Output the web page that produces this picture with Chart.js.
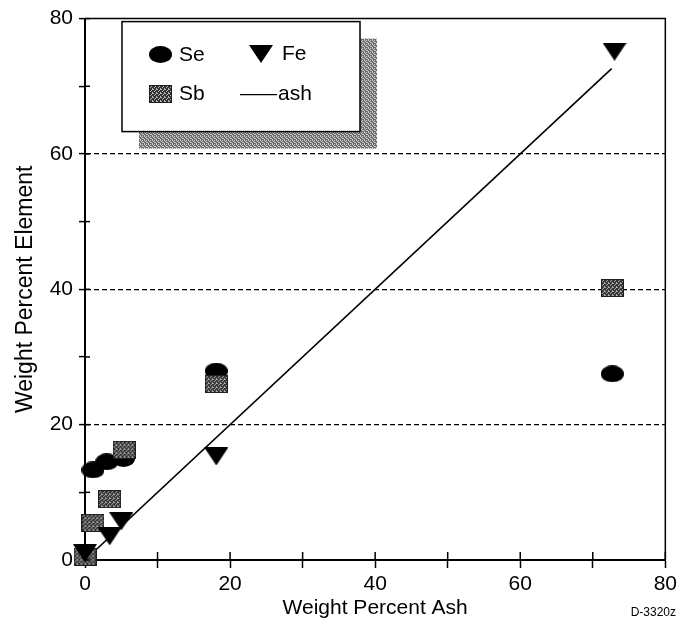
<!DOCTYPE html>
<html>
<head>
<meta charset="utf-8">
<script src="https://cdn.jsdelivr.net/npm/chart.js@4/dist/chart.umd.min.js"></script>
<style>
  html, body { margin: 0; padding: 0; background: #fff; }
  #wrap { width: 681px; height: 630px; }
</style>
</head>
<body>
<div id="wrap"><canvas id="c" width="681" height="630"></canvas></div>
<script>
// Element content vs. ash content (weight percent)
const seX = [1.1, 3.0, 5.3, 18.1, 72.7];
const seY = [13.3, 14.5, 15.0, 27.9, 27.5];
const sbX = [0.0, 1.1, 3.4, 5.4, 18.1, 72.7];
const sbY = [0.5, 5.5, 9.0, 16.3, 26.0, 40.2];
const feX = [0.0, 3.4, 5.0, 18.1, 73.0];
const feY = [1.0, 3.5, 5.7, 15.3, 75.1];
const ashX = [0, 72.6];
const ashY = [0, 72.6];

const xTickLabels = [0, 20, 40, 60, 80];
const yTickLabels = [0, 20, 40, 60, 80];
const dashedLevels = [20, 40, 60];

const FONT = '"Liberation Sans", Arial, Helvetica, sans-serif';

function pts(xs, ys) { return xs.map((x, i) => ({ x: x, y: ys[i] })); }

// grainy fill used for the Sb squares and the legend shadow
function stipple(dark, light, mask) {
  const c = document.createElement('canvas');
  c.width = 4; c.height = 4;
  const g = c.getContext('2d');
  g.fillStyle = dark; g.fillRect(0, 0, 4, 4);
  g.fillStyle = light;
  mask.forEach(([x, y]) => g.fillRect(x, y, 1, 1));
  return g.createPattern(c, 'repeat');
}

function makeMarker(w, h, draw) {
  const c = document.createElement('canvas');
  c.width = w; c.height = h;
  draw(c.getContext('2d'), w, h);
  return c;
}

const circleMark = makeMarker(23, 17, (g, w, h) => {
  g.fillStyle = '#000';
  g.beginPath();
  g.ellipse(w / 2, h / 2, w / 2, h / 2, 0, 0, Math.PI * 2);
  g.fill();
});

const triMark = makeMarker(24, 18, (g, w, h) => {
  g.fillStyle = '#000';
  g.beginPath();
  g.moveTo(0, 0); g.lineTo(w, 0); g.lineTo(w / 2, h); g.closePath();
  g.fill();
});

const squareMark = makeMarker(23, 18, (g, w, h) => {
  g.fillStyle = stipple('#333333', '#b5b5b5', [[0, 0], [2, 1], [1, 2], [3, 3], [3, 0]]);
  g.fillRect(0, 0, w, h);
  g.strokeStyle = '#1e1e1e';
  g.lineWidth = 1;
  g.strokeRect(0.5, 0.5, w - 1, h - 1);
});

// frame, inner tick stubs, legend box and drawing number
const decorations = {
  id: 'decorations',
  afterDraw(chart) {
    const { ctx, chartArea: a, scales } = chart;
    const xs = scales.x, ys = scales.y;
    ctx.save();
    ctx.strokeStyle = '#000';
    ctx.lineWidth = 1.5;
    ctx.beginPath();
    ctx.moveTo(a.left, a.top); ctx.lineTo(a.right, a.top); ctx.lineTo(a.right, a.bottom);
    ctx.stroke();

    for (let v = 0; v <= 80; v += 10) {
      const px = xs.getPixelForValue(v);
      ctx.beginPath(); ctx.moveTo(px, a.bottom); ctx.lineTo(px, a.bottom - 8); ctx.stroke();
      const py = ys.getPixelForValue(v);
      ctx.beginPath(); ctx.moveTo(a.left, py); ctx.lineTo(a.left + 5, py); ctx.stroke();
    }

    // legend
    const bx = a.left + 37, by = a.top + 3, bw = 238, bh = 110;
    ctx.fillStyle = stipple('#6a6a6a', '#cfcfcf', [[0, 0], [2, 0], [1, 1], [3, 2], [0, 3], [2, 2]]);
    ctx.fillRect(bx + 17, by + 17, bw, bh);
    ctx.fillStyle = '#fff';
    ctx.fillRect(bx, by, bw, bh);
    ctx.strokeStyle = '#000';
    ctx.lineWidth = 1.5;
    ctx.strokeRect(bx, by, bw, bh);

    const ds = chart.data.datasets;
    const byLabel = l => ds.find(d => d.label === l);
    const items = [
      { l: 'Se', mx: bx + 38, my: by + 33, tx: bx + 57 },
      { l: 'Fe', mx: bx + 139, my: by + 32, tx: bx + 160 },
      { l: 'Sb', mx: bx + 38, my: by + 72, tx: bx + 57 },
    ];
    ctx.font = '21px ' + FONT;
    ctx.fillStyle = '#000';
    ctx.textBaseline = 'middle';
    ctx.textAlign = 'left';
    items.forEach(it => {
      const m = byLabel(it.l).pointStyle;
      ctx.drawImage(m, Math.round(it.mx - m.width / 2), Math.round(it.my - m.height / 2));
      ctx.fillText(it.l, it.tx, it.my + 1);
    });
    ctx.lineWidth = 1.2;
    ctx.beginPath(); ctx.moveTo(bx + 118, by + 73); ctx.lineTo(bx + 155, by + 73); ctx.stroke();
    ctx.fillText(byLabel('ash').label, bx + 156, by + 73);

    ctx.font = '12px ' + FONT;
    ctx.textAlign = 'right';
    ctx.fillText('D-3320z', 676, 613);
    ctx.restore();
  }
};

new Chart(document.getElementById('c'), {
  type: 'scatter',
  data: {
    datasets: [
      { label: 'Fe', data: pts(feX, feY), pointStyle: triMark, pointRadius: 12, clip: false },
      { label: 'Sb', data: pts(sbX, sbY), pointStyle: squareMark, pointRadius: 12, clip: false },
      { label: 'Se', data: pts(seX, seY), pointStyle: circleMark, pointRadius: 12, clip: false },
      { label: 'ash', type: 'line', data: pts(ashX, ashY), showLine: true, borderColor: '#000',
        borderWidth: 1.6, pointRadius: 0, fill: false, tension: 0 }
    ]
  },
  options: {
    responsive: false,
    animation: false,
    events: [],
    layout: { padding: { top: 17, right: 15, left: 0, bottom: 0 } },
    plugins: { legend: { display: false }, tooltip: { enabled: false } },
    scales: {
      x: {
        type: 'linear', min: 0, max: 80,
        ticks: {
          stepSize: 10, autoSkip: false, maxRotation: 0, color: '#000', padding: 4,
          font: { family: FONT, size: 21 },
          callback: v => xTickLabels.includes(v) ? String(v) : ''
        },
        grid: { drawOnChartArea: false, color: '#000', tickLength: 8, tickWidth: 1.5 },
        border: { color: '#000', width: 2 },
        title: { display: true, text: 'Weight Percent Ash', color: '#000',
                 font: { family: FONT, size: 21 }, padding: { top: 0, bottom: 9 } },
        afterFit: s => { s.height = 70; }
      },
      y: {
        type: 'linear', min: 0, max: 80,
        ticks: {
          stepSize: 10, autoSkip: false, color: '#000', padding: 6,
          font: { family: FONT, size: 21 },
          callback: v => yTickLabels.includes(v) ? String(v) : ''
        },
        grid: {
          color: c => (c.tick && dashedLevels.includes(c.tick.value)) ? '#000' : 'rgba(0,0,0,0)',
          lineWidth: 1.2, tickColor: '#000', tickLength: 6, tickWidth: 1.5, tickBorderDash: []
        },
        border: { color: '#000', width: 2, dash: [5, 3] },
        title: { display: true, text: 'Weight Percent Element', color: '#000',
                 font: { family: FONT, size: 23 }, padding: { top: 12, bottom: 0 } },
        afterFit: s => { s.width = 85; }
      }
    }
  },
  plugins: [decorations]
});
</script>
</body>
</html>
